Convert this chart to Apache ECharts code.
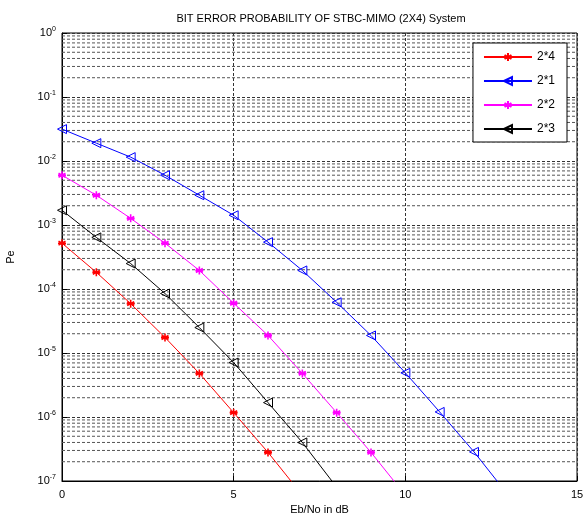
<!DOCTYPE html>
<html>
<head>
<meta charset="utf-8">
<script src="https://cdn.jsdelivr.net/npm/echarts@6/dist/echarts.min.js"></script>
<style>
html,body{margin:0;padding:0;background:#fff;}
#c{width:587px;height:525px;}
</style>
</head>
<body>
<div id="c"></div>
<script>
// ---- data ----
var titleText = 'BIT ERROR PROBABILITY OF STBC-MIMO (2X4) System';
var seriesNames = ['2*4', '2*1', '2*2', '2*3'];
var xTicks = [0, 5, 10, 15];

var x24 = [0, 1, 2, 3, 4, 5, 6, 7];
var pe24 = [5.2e-4, 1.82e-4, 5.9e-5, 1.75e-5, 4.8e-6, 1.17e-6, 2.8e-7, 6e-8];

var x21 = [0, 1, 2, 3, 4, 5, 6, 7, 8, 9, 10, 11, 12, 13];
var pe21 = [3.15e-2, 1.9e-2, 1.15e-2, 6.0e-3, 2.92e-3, 1.42e-3, 5.4e-4, 1.95e-4, 6.2e-5, 1.88e-5, 4.9e-6, 1.2e-6, 2.85e-7, 6e-8];

var x22 = [0, 1, 2, 3, 4, 5, 6, 7, 8, 9, 10];
var pe22 = [6.0e-3, 2.92e-3, 1.27e-3, 5.2e-4, 1.95e-4, 6.0e-5, 1.88e-5, 4.8e-6, 1.17e-6, 2.8e-7, 6e-8];

var x23 = [0, 1, 2, 3, 4, 5, 6, 7, 8];
var pe23 = [1.7e-3, 6.4e-4, 2.5e-4, 8.5e-5, 2.5e-5, 7.1e-6, 1.68e-6, 4.0e-7, 8e-8];

// ---- build ----
function pairs(xs, ys) { return xs.map(function (x, i) { return [x, ys[i]]; }); }

var star = 'path://M0,-5L0,5M-4.33,-2.5L4.33,2.5M-4.33,2.5L4.33,-2.5M-5,0L5,0';

function mk(name, xs, ys, color, isStar) {
  return {
    name: name,
    type: 'line',
    data: pairs(xs, ys),
    clip: true,
    z: 5,
    lineStyle: { color: color, width: 1 },
    itemStyle: isStar ? { color: color, borderColor: color, borderWidth: 1.6 }
                      : { color: 'rgba(255,255,255,0)', borderColor: color, borderWidth: 1 },
    symbol: isStar ? star : 'triangle',
    symbolSize: isStar ? 8 : 9,
    symbolRotate: isStar ? 0 : 90,
    showAllSymbol: true,
    animation: false
  };
}

var series = [];
// minor log grid lines (2..9 x 10^k), drawn through the axes as plain lines
for (var k = -7; k <= -1; k++) {
  for (var m = 2; m <= 9; m++) {
    var v = m * Math.pow(10, k);
    series.push({
      type: 'line', silent: true, symbol: 'none', z: 1, animation: false,
      lineStyle: { color: '#555', width: 1, type: [3, 2] },
      data: [[0, v], [15, v]]
    });
  }
}
series.push(
  mk(seriesNames[0], x24, pe24, '#ff0000', true),
  mk(seriesNames[1], x21, pe21, '#0000ff', false),
  mk(seriesNames[2], x22, pe22, '#ff00ff', true),
  mk(seriesNames[3], x23, pe23, '#000000', false)
);

var chart = echarts.init(document.getElementById('c'), null, { renderer: 'canvas' });
chart.setOption({
  animation: false,
  backgroundColor: '#fff',
  textStyle: { fontFamily: 'Liberation Sans, Arial, sans-serif' },
  title: {
    text: titleText,
    left: 316, top: 8, textAlign: 'center',
    textStyle: { fontSize: 11, fontWeight: 'normal', color: '#000', fontFamily: 'Liberation Sans, Arial, sans-serif' }
  },
  grid: {
    left: 62, right: 10, top: 33, bottom: 44,
    outerBoundsMode: 'none',
    containLabel: false,
    show: true, borderColor: '#000', borderWidth: 1, backgroundColor: '#fff'
  },
  legend: {
    orient: 'vertical',
    right: 20, top: 43,
    padding: [8, 12, 7, 10],
    itemGap: 12,
    itemWidth: 48, itemHeight: 10,
    backgroundColor: '#fff',
    borderColor: '#000', borderWidth: 1,
    textStyle: { fontSize: 12, color: '#000' },
    data: seriesNames
  },
  xAxis: {
    type: 'value',
    min: 0, max: 15, interval: 5,
    name: 'Eb/No in dB',
    nameLocation: 'middle', nameGap: 22,
    nameTextStyle: { fontSize: 11, color: '#000' },
    axisLine: { show: true, lineStyle: { color: '#000' } },
    axisTick: { show: true, inside: true, length: 5, lineStyle: { color: '#000' } },
    axisLabel: { fontSize: 11, color: '#000', margin: 8, formatter: function (v) { return xTicks.indexOf(v) >= 0 ? String(v) : ''; } },
    splitLine: { show: true, lineStyle: { color: '#333', width: 1, type: [3, 2] } }
  },
  yAxis: {
    type: 'log',
    logBase: 10,
    min: 1e-7, max: 1,
    splitNumber: 7,
    name: 'Pe',
    nameLocation: 'middle', nameGap: 46,
    nameTextStyle: { fontSize: 11, color: '#000' },
    axisLine: { show: true, lineStyle: { color: '#000' } },
    axisTick: { show: true, inside: true, length: 5, lineStyle: { color: '#000' } },
    axisLabel: {
      color: '#000', margin: 6,
      formatter: function (v) {
        var e = Math.round(Math.log(v) / Math.LN10);
        return '{b|10}{s|' + e + '}';
      },
      rich: {
        b: { fontSize: 11, color: '#000' },
        s: { fontSize: 7, color: '#000', padding: [0, 0, 8, 0] }
      }
    },
    splitLine: { show: true, lineStyle: { color: '#333', width: 1, type: [3, 2] } }
  },
  series: series
});
</script>
</body>
</html>
